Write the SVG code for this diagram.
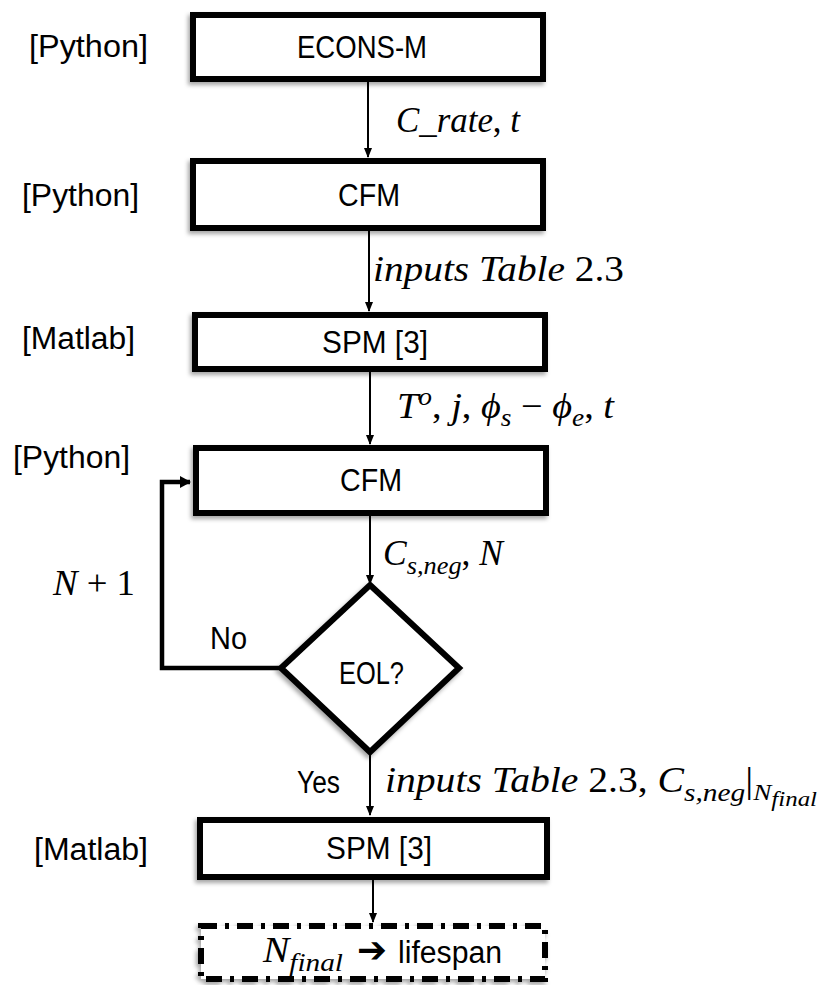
<svg xmlns="http://www.w3.org/2000/svg" width="820" height="985" viewBox="0 0 820 985">
<defs>
<filter id="sh" x="-10%" y="-10%" width="120%" height="130%">
<feDropShadow dx="-2" dy="3" stdDeviation="2" flood-color="#000" flood-opacity="0.35"/>
</filter>
<marker id="ah" markerWidth="10" markerHeight="10" refX="9" refY="5" orient="auto" markerUnits="userSpaceOnUse">
<path d="M0,1 L10,5 L0,9 Z" fill="#000"/>
</marker>
<marker id="ahb" markerWidth="12" markerHeight="12" refX="10" refY="6" orient="auto" markerUnits="userSpaceOnUse">
<path d="M0,0 L11,6 L0,12 Z" fill="#000"/>
</marker>
</defs>
<style>
.box{fill:#fff;stroke:#000;stroke-width:6;filter:url(#sh)}
.dash{fill:#fff;stroke:#000;stroke-width:6;stroke-dasharray:16 8 4 8;filter:url(#sh)}
.t{font-family:"Liberation Sans",Arial,sans-serif;font-size:31px;fill:#000}
.m{font-family:"Liberation Serif","Times New Roman",serif;font-size:35px;font-style:italic;fill:#000}
.u{font-style:normal}
.conn{stroke:#000;stroke-width:2;fill:none}
.loop{stroke:#000;stroke-width:4.5;fill:none}
</style>

<g id="lbl-python1"><text class="t" x="29" y="57" textLength="119" lengthAdjust="spacingAndGlyphs">[Python]</text></g>
<g id="lbl-python2"><text class="t" x="22" y="206" textLength="117" lengthAdjust="spacingAndGlyphs">[Python]</text></g>
<g id="lbl-matlab1"><text class="t" x="22" y="349" textLength="113" lengthAdjust="spacingAndGlyphs">[Matlab]</text></g>
<g id="lbl-python3"><text class="t" x="13" y="468" textLength="117" lengthAdjust="spacingAndGlyphs">[Python]</text></g>
<g id="lbl-matlab2"><text class="t" x="34" y="860" textLength="114" lengthAdjust="spacingAndGlyphs">[Matlab]</text></g>

<g id="econs"><rect class="box" x="193" y="15" width="350" height="64"/><text class="t" x="297" y="58" textLength="130" lengthAdjust="spacingAndGlyphs">ECONS-M</text></g>
<g id="cfm1"><rect class="box" x="193" y="161" width="350" height="67"/><text class="t" x="338" y="206" textLength="62" lengthAdjust="spacingAndGlyphs">CFM</text></g>
<g id="spm1"><rect class="box" x="195" y="315" width="350" height="54"/><text class="t" x="322" y="353" textLength="106" lengthAdjust="spacingAndGlyphs">SPM [3]</text></g>
<g id="cfm2"><rect class="box" x="196" y="448" width="350" height="65"/><text class="t" x="340" y="491" textLength="62" lengthAdjust="spacingAndGlyphs">CFM</text></g>
<g id="eol"><polygon class="box" points="370,585 459,668 370,752 281,668"/><text class="t" x="339" y="684" textLength="65" lengthAdjust="spacingAndGlyphs">EOL?</text></g>
<g id="spm2"><rect class="box" x="200" y="820" width="347" height="57"/><text class="t" x="326" y="859" textLength="106" lengthAdjust="spacingAndGlyphs">SPM [3]</text></g>
<g id="lifespan"><rect class="dash" x="201" y="926" width="344" height="53"/>
<text class="m" x="263" y="962" textLength="80" lengthAdjust="spacingAndGlyphs">N<tspan font-size="26" dy="9">final</tspan></text>
<text x="357" y="962" font-family="DejaVu Sans,sans-serif" font-size="36" font-weight="bold" textLength="30" lengthAdjust="spacingAndGlyphs">➔</text>
<text class="t" x="398" y="963" textLength="104" lengthAdjust="spacingAndGlyphs">lifespan</text>
</g>

<g id="connectors">
<line class="conn" x1="368" y1="82" x2="368" y2="157" marker-end="url(#ah)"/>
<line class="conn" x1="369" y1="231" x2="369" y2="311" marker-end="url(#ah)"/>
<line class="conn" x1="370" y1="372" x2="370" y2="444" marker-end="url(#ah)"/>
<line class="conn" x1="370" y1="516" x2="370" y2="584" marker-end="url(#ah)"/>
<line class="conn" x1="370" y1="752" x2="370" y2="815" marker-end="url(#ah)"/>
<line class="conn" x1="373" y1="880" x2="373" y2="922" marker-end="url(#ah)"/>
<polyline class="loop" points="281,668 162,668 162,482 190,482" marker-end="url(#ahb)"/>
</g>

<g id="edge-labels">
<text class="m" x="396" y="132" textLength="124" lengthAdjust="spacingAndGlyphs">C_rate<tspan class="u">,</tspan> t</text>
<text class="m" x="373" y="281" textLength="251" lengthAdjust="spacingAndGlyphs">inputs Table <tspan class="u">2.3</tspan></text>
<text class="m" x="397" y="418" textLength="217" lengthAdjust="spacingAndGlyphs">T<tspan font-size="25" dy="-13">o</tspan><tspan class="u" dy="13">,</tspan> j<tspan class="u">,</tspan> ϕ<tspan font-size="25" dy="8">s</tspan><tspan class="u" dy="-8"> − </tspan>ϕ<tspan font-size="25" dy="8">e</tspan><tspan class="u" dy="-8">,</tspan> t</text>
<text class="m" x="383" y="565" textLength="120" lengthAdjust="spacingAndGlyphs">C<tspan font-size="26" dy="9">s,neg</tspan><tspan class="u" dy="-9">,</tspan> N</text>
<text class="m" x="53" y="595" textLength="82" lengthAdjust="spacingAndGlyphs">N <tspan class="u">+ 1</tspan></text>
<text class="t" x="210" y="649" textLength="37" lengthAdjust="spacingAndGlyphs">No</text>
<text class="t" x="297" y="793" textLength="43" lengthAdjust="spacingAndGlyphs">Yes</text>
<text class="m" x="385" y="792" textLength="432" lengthAdjust="spacingAndGlyphs">inputs Table <tspan class="u">2.3,</tspan> C<tspan font-size="26" dy="9">s,neg</tspan><tspan class="u" dy="-9">|</tspan><tspan font-size="24" dy="8">N</tspan><tspan font-size="22" dy="6">final</tspan></text>
</g>
</svg>
